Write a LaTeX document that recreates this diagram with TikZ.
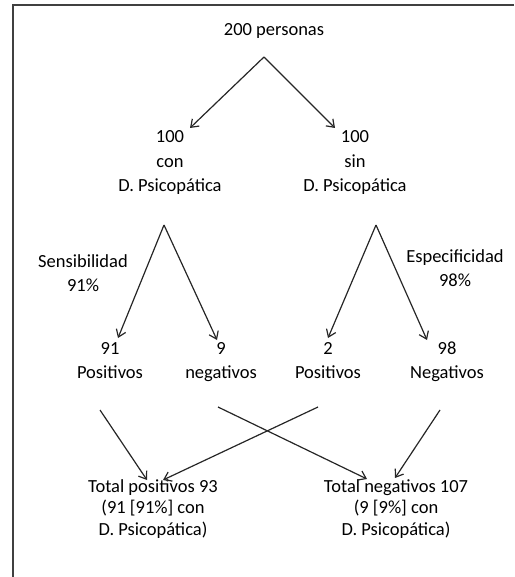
\documentclass[tikz,border=0pt]{standalone}
\usepackage{fontspec}
\setmainfont{Carlito}
\usetikzlibrary{arrows.meta}
\begin{document}
\begin{tikzpicture}[x=1pt,y=-1pt,line width=1.2pt,
	txt/.style = {align=center, inner sep=0pt, anchor=base, text=black,
		font=\fontsize{18.5}{24}\selectfont},
	arr/.style = {draw=black!85, -{Straight Barb[length=7pt,width=10pt]}}]
	
	\useasboundingbox (0,0) rectangle (514,577);
	\draw[line width=2pt, black!75] (514,5) -- (13,5) -- (13,577);
	
	% the base of a node is the base line of its last line
	\node[txt] at (274,36) (tot) {200 personas};
	\node[txt] at (170,191) (con) {100\\con\\D. Psicop\'atica};
	\node[txt] at (355,191) (sin) {100\\sin\\D. Psicop\'atica};
	\node[txt] at (83,291) (sens) {Sensibilidad\\91\%};
	\node[txt] at (455,286) (esp) {Especificidad\\98\%};
	\node[txt] at (110,378) (vp) {91\\Positivos};
	\node[txt] at (221,378) (fn) {9\\negativos};
	\node[txt] at (328,378) (fp) {2\\Positivos};
	\node[txt] at (447,378) (vn) {98\\Negativos};
	\node[txt,font=\fontsize{18.5}{21.5}\selectfont] at (153,535) (totpos) {Total positivos 93\\(91 [91\%] con\\D. Psicop\'atica)};
	\node[txt,font=\fontsize{18.5}{21.5}\selectfont] at (396,535) (totneg) {Total negativos 107\\(9 [9\%] con\\D. Psicop\'atica)};
	
	\coordinate (t0) at (264,57);
	\coordinate (t1) at (190,128);
	\coordinate (t2) at (335,128);
	\coordinate (c0) at (164,225);
	\coordinate (c1) at (118,338);
	\coordinate (c2) at (217,340);
	\coordinate (s0) at (376,225);
	\coordinate (s1) at (328,338);
	\coordinate (s2) at (427,340);
	\coordinate (vp0) at (100,410);
	\coordinate (fn0) at (218,407);
	\coordinate (fp0) at (318,407);
	\coordinate (vn0) at (440,410);
	\coordinate (pos1) at (147,480);
	\coordinate (pos2) at (163,480);
	\coordinate (neg1) at (367,479);
	\coordinate (neg2) at (395,478);
	
	\path (t0) edge[arr] (t1);
	\path (t0) edge[arr] (t2);
	\path (c0) edge[arr] (c1);
	\path (c0) edge[arr] (c2);
	\path (s0) edge[arr] (s1);
	\path (s0) edge[arr] (s2);
	\path (vp0) edge[arr] (pos1);
	\path (fp0) edge[arr] (pos2);
	\path (fn0) edge[arr] (neg1);
	\path (vn0) edge[arr] (neg2);
	
\end{tikzpicture}
\end{document}
